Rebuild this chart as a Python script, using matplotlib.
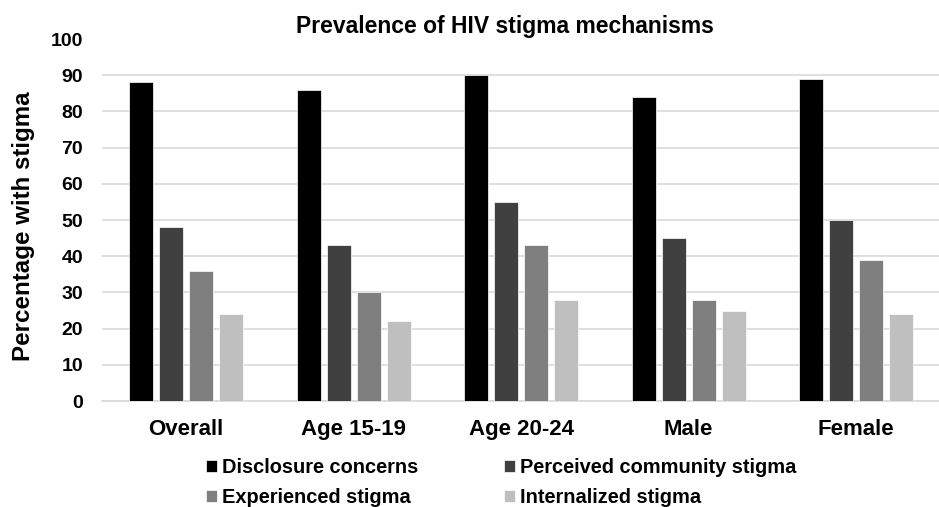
import numpy as np
import matplotlib.pyplot as plt

plt.rcParams['font.family'] = ['Liberation Sans', 'DejaVu Sans']
plt.rcParams['font.weight'] = 'bold'

# Data
categories = ['Overall', 'Age 15-19', 'Age 20-24', 'Male', 'Female']
series_names = ['Disclosure concerns', 'Perceived community stigma',
                'Experienced stigma', 'Internalized stigma']
disclosure = [88, 86, 90, 84, 89]
perceived = [48, 43, 55, 45, 50]
experienced = [36, 30, 43, 28, 39]
internalized = [24, 22, 28, 25, 24]
colors = ['#000000', '#404040', '#7f7f7f', '#bfbfbf']

fig = plt.figure(figsize=(9.39, 5.07), dpi=100)
ax = fig.add_axes([0.109, 0.209, 0.892, 0.714])

x = np.arange(len(categories))
pitch = 0.179
width = 0.143
values = [disclosure, perceived, experienced, internalized]
bars = []
for i, (vals, name, c) in enumerate(zip(values, series_names, colors)):
    b = ax.bar(x + (i - 1.5) * pitch, vals, width, color=c, label=name,
               edgecolor='white', linewidth=0.5, zorder=3)
    bars.append(b)

ax.set_xlim(-0.5, 4.5)
ax.set_ylim(0, 100)
ax.set_yticks(range(0, 101, 10))
ax.set_xticks(x)
ax.set_xticklabels(categories, fontsize=16, fontweight='bold')
ax.tick_params(axis='y', labelsize=14, length=0, pad=14)
ax.tick_params(axis='x', length=0, pad=13)
ax.grid(axis='y', color='#d9d9d9', linewidth=1.2, zorder=0)
ax.yaxis.get_gridlines()[-1].set_visible(False)
for s in ['top', 'right', 'left']:
    ax.spines[s].set_visible(False)
ax.spines['bottom'].set_color('#d9d9d9')
ax.spines['bottom'].set_linewidth(1.2)

fig.text(0.025, 0.554, 'Percentage with stigma', rotation=90, ha='center',
         va='center', fontsize=17.4, fontweight='bold')
fig.text(0.538, 0.948, 'Prevalence of HIV stigma mechanisms', ha='center',
         va='center', fontsize=16.5, fontweight='bold')

# legend filled row by row like the original
order = [0, 2, 1, 3]
fig.legend([bars[k] for k in order], [series_names[k] for k in order],
           loc='lower left', bbox_to_anchor=(0.2, -0.036), ncol=2,
           frameon=False, fontsize=14.4, handlelength=0.55, handleheight=0.55,
           handletextpad=0.25, columnspacing=4.3, labelspacing=0.55)

plt.savefig('out.png', dpi=100)
